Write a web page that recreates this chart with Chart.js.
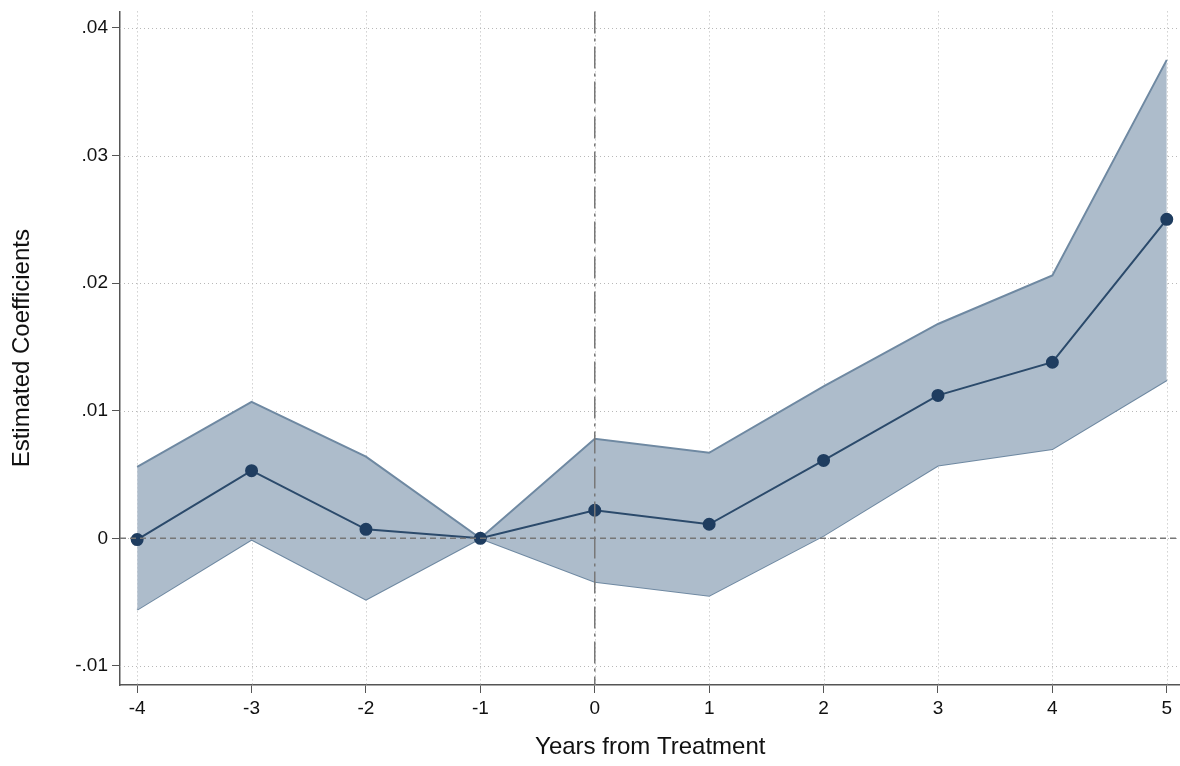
<!DOCTYPE html>
<html><head><meta charset="utf-8">
<script src="https://cdn.jsdelivr.net/npm/chart.js@4/dist/chart.umd.min.js"></script>
<style>html,body{margin:0;padding:0;background:#fff;overflow:hidden;width:1180px;height:766px}#w{width:1188px;height:770px;margin-top:-4px}</style>
</head><body><div id="w"><canvas id="c"></canvas></div>
<script>
const years = [-4,-3,-2,-1,0,1,2,3,4,5];
const coef  = [-0.0001,0.0053,0.0007,0,0.0022,0.0011,0.0061,0.0112,0.0138,0.0250];
const upper = [0.0056,0.0107,0.0064,0,0.0078,0.0067,0.0119,0.0168,0.0206,0.0375];
const lower = [-0.0056,-0.0001,-0.0048,0,-0.0034,-0.0045,0.0002,0.0057,0.0070,0.0124];
const yTicks = [-0.01,0,0.01,0.02,0.03,0.04];
const yLabels = ['-.01','0','.01','.02','.03','.04'];
const xy = a => a.map((v,i)=>({x:years[i],y:v}));
const F = "'Liberation Sans', Arial, sans-serif";
const refPlugin = {
  id:'ref',
  beforeDatasetsDraw(ch){
    const {ctx,chartArea:a,scales:{x,y}} = ch;
    ctx.save();
    ctx.strokeStyle='#b8b8b8'; ctx.lineWidth=1; ctx.setLineDash([1,3]);
    yTicks.forEach(t=>{const p=Math.round(y.getPixelForValue(t))+0.5;ctx.beginPath();ctx.moveTo(a.left,p);ctx.lineTo(a.right,p);ctx.stroke();});
    years.forEach(t=>{const p=Math.round(x.getPixelForValue(t))+0.5;ctx.beginPath();ctx.moveTo(p,a.top);ctx.lineTo(p,a.bottom);ctx.stroke();});
    ctx.restore();
  },
  afterDatasetsDraw(ch){
    const {ctx,chartArea:a,scales:{x,y}} = ch;
    ctx.save();
    ctx.strokeStyle='#777'; ctx.lineWidth=1.5;
    ctx.setLineDash([6,4]);
    const py=y.getPixelForValue(0);
    ctx.beginPath();ctx.moveTo(a.left,py);ctx.lineTo(a.right,py);ctx.stroke();
    ctx.setLineDash([22,5,3,5]);
    const px=x.getPixelForValue(0);
    ctx.beginPath();ctx.moveTo(px,a.top);ctx.lineTo(px,a.bottom);ctx.stroke();
    ctx.restore();
  }
};
new Chart(document.getElementById('c'),{
  type:'scatter',
  data:{datasets:[
    {data:xy(lower),showLine:true,borderColor:'#6f89a2',borderWidth:2,pointRadius:0,fill:false,order:3},
    {data:xy(upper),showLine:true,borderColor:'#6f89a2',borderWidth:2,pointRadius:0,fill:'-1',backgroundColor:'#adbccb',order:2},
    {data:xy(coef),showLine:true,borderColor:'#2b4a6b',borderWidth:2,pointRadius:5.5,pointBackgroundColor:'#1f3d60',pointBorderColor:'#1f3d60',order:1}
  ]},
  options:{
    responsive:true,maintainAspectRatio:false,animation:false,
    layout:{padding:{top:6,right:0,left:0,bottom:0}},
    plugins:{legend:{display:false},tooltip:{enabled:false}},
    scales:{
      x:{type:'linear',min:-4.15,max:5.12,
        afterBuildTicks:s=>{s.ticks=years.map(v=>({value:v}));},
        afterFit:s=>{s.height=81;},
        ticks:{color:'#111',font:{family:F,size:19},padding:4,maxRotation:0,callback:v=>String(v)},
        grid:{drawOnChartArea:false,drawTicks:true,tickLength:8,tickColor:'#555'},
        border:{color:'#555',width:1.5},
        title:{display:true,text:'Years from Treatment',color:'#111',font:{family:F,size:24},padding:{top:6}}
      },
      y:{type:'linear',min:-0.0115,max:0.0413,
        afterBuildTicks:s=>{s.ticks=yTicks.map(v=>({value:v}));},
        afterFit:s=>{s.width=120;},
        ticks:{color:'#111',font:{family:F,size:19},padding:4,callback:v=>{const i=yTicks.findIndex(t=>Math.abs(t-v)<1e-9);return i>=0?yLabels[i]:'';}},
        grid:{drawOnChartArea:false,drawTicks:true,tickLength:8,tickColor:'#555'},
        border:{color:'#555',width:1.5},
        title:{display:true,text:'Estimated Coefficients',color:'#111',font:{family:F,size:24},padding:{top:8,bottom:8}}
      }
    }
  },
  plugins:[refPlugin]
});
</script></body></html>
